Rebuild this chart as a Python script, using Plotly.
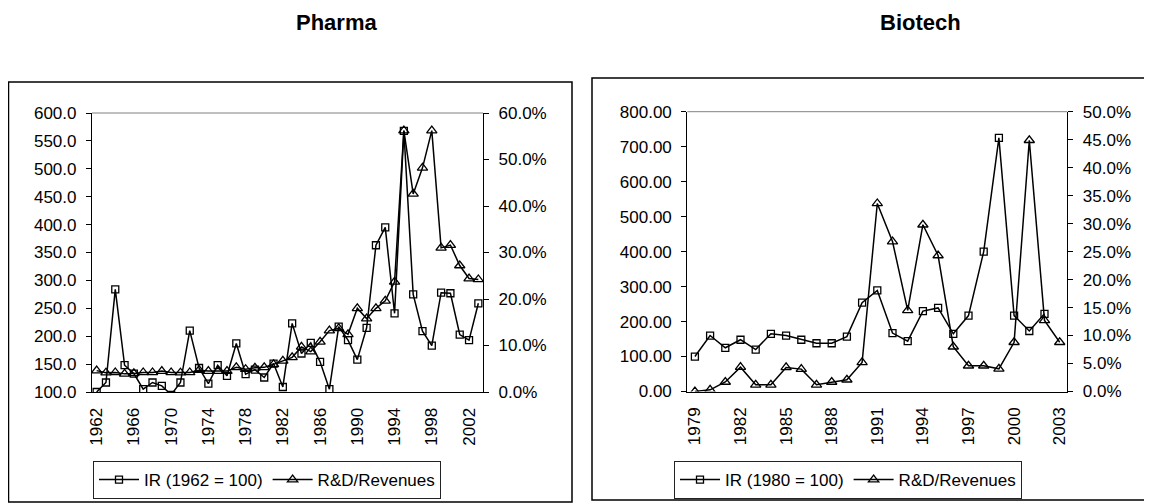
import plotly.graph_objects as go

# ---------------- data ----------------
pharma_years = list(range(1962, 2004))
pharma_ir = [100, 117, 284, 148, 133, 105, 117, 111, 95, 117,
             210, 143, 115, 148, 129, 187, 132, 140, 126, 151,
             109, 223, 169, 188, 154, 105, 217, 193, 158, 215,
             363, 395, 241, 568, 275, 209, 183, 278, 277, 203,
             193, 259]
pharma_rd = [4.6, 4.15, 4.2, 3.9, 4.0, 4.2, 4.2, 4.5, 4.2, 4.15,
             4.2, 4.7, 4.5, 4.5, 4.5, 5.3, 4.9, 5.2, 5.3, 5.95,
             6.7, 7.45, 9.7, 8.7, 10.8, 13.2, 13.7, 12.4, 18.0, 15.8,
             18.0, 19.6, 23.7, 56.2, 42.6, 48.2, 56.2, 31.0, 31.6, 27.2,
             24.4, 24.2]
pharma_tick_years = list(range(1962, 2004, 4))

bio_years = list(range(1979, 2004))
bio_ir = [100, 160, 125, 148, 120, 165, 160, 148, 138, 138,
          157, 254, 289, 167, 144, 230, 239, 165, 217, 400,
          725, 217, 173, 222, None]
bio_rd = [0.0, 0.3, 1.7, 4.35, 1.2, 1.2, 4.3, 4.0, 1.2, 1.7,
          2.1, 5.2, 33.6, 26.8, 14.5, 29.8, 24.3, 8.0, 4.6, 4.6,
          4.05, 8.8, 44.9, 12.7, 8.8]
bio_tick_years = list(range(1979, 2004, 3))

pharma_names = ["IR (1962 = 100)", "R&D/Revenues"]
bio_names = ["IR (1980 = 100)", "R&D/Revenues"]
titles = ["Pharma", "Biotech"]

# ---------------- layout helpers ----------------
OFF = 8  # default page body margin
W, H = 1152 - OFF, 504 - OFF
FONT = "Liberation Sans, Arial, sans-serif"
FS = 17


def px(x):
    return (x - OFF) / W


def py(y):
    return 1 - (y - OFF) / H


sq = dict(symbol="square-open", size=7, color="black", line=dict(width=1.3, color="black"))
tri = dict(symbol="triangle-up-open", size=9, color="black", line=dict(width=1.3, color="black"))
line = dict(color="black", width=1.5)

fig = go.Figure()

fig.add_trace(go.Scatter(x=pharma_years, y=pharma_ir, name=pharma_names[0], mode="lines+markers",
                         marker=sq, line=line, xaxis="x", yaxis="y", legend="legend"))
fig.add_trace(go.Scatter(x=pharma_years, y=pharma_rd, name=pharma_names[1], mode="lines+markers",
                         marker=tri, line=line, xaxis="x", yaxis="y2", legend="legend"))
fig.add_trace(go.Scatter(x=bio_years, y=bio_ir, name=bio_names[0], mode="lines+markers",
                         marker=sq, line=line, xaxis="x2", yaxis="y3", legend="legend2",
                         connectgaps=False))
fig.add_trace(go.Scatter(x=bio_years, y=bio_rd, name=bio_names[1], mode="lines+markers",
                         marker=tri, line=line, xaxis="x2", yaxis="y4", legend="legend2"))

pd_x = [px(92), px(483)]
pd_y = [py(392), py(113)]
bd_x = [px(687.3), px(1067.3)]
bd_y = [py(391.5), py(111.7)]

p_range = [pharma_years[0] - 0.5, pharma_years[-1] + 0.5]
b_range = [bio_years[0] - 0.5, bio_years[-1] + 0.5]
p_bounds = [y - 0.5 for y in pharma_years] + [pharma_years[-1] + 0.5]
b_bounds = [y - 0.5 for y in bio_years] + [bio_years[-1] + 0.5]

tickfont = dict(family=FONT, size=FS, color="black")


def main_x(domain, rng, tv, anchor):
    return dict(domain=domain, range=rng, tickvals=tv, ticktext=[str(v) for v in tv],
                tickangle=-90, ticks="", showline=True, linecolor="black", linewidth=1.2,
                showgrid=False, zeroline=False, tickfont=tickfont, anchor=anchor,
                automargin=False, ticklabelstandoff=8, fixedrange=True)


def tick_x(domain, rng, bounds, anchor, over, where):
    return dict(domain=domain, range=rng, tickvals=bounds, ticks=where, ticklen=4,
                tickcolor="black", tickwidth=1, showticklabels=False, showline=False,
                showgrid=False, zeroline=False, anchor=anchor, overlaying=over,
                automargin=False)


def yax(domain, rng, dtick, fmt, suffix, anchor, side, over=None):
    d = dict(domain=domain, range=rng, dtick=dtick, tick0=rng[0], tickformat=fmt,
             ticksuffix=suffix, ticks="outside", ticklen=5, tickcolor="black",
             showline=True, linecolor="black", linewidth=1.2, showgrid=False,
             zeroline=False, tickfont=tickfont, anchor=anchor, side=side,
             automargin=False, ticklabelstandoff=6)
    if over:
        d["overlaying"] = over
    return d


fig.update_layout(
    width=W, height=H, autosize=False,
    margin=dict(l=0, r=0, t=0, b=0),
    paper_bgcolor="white", plot_bgcolor="rgba(0,0,0,0)",
    font=dict(family=FONT, size=FS, color="black"),
    xaxis=main_x(pd_x, p_range, pharma_tick_years, "y"),
    xaxis3=tick_x(pd_x, p_range, p_bounds, "y", "x", "outside"),
    xaxis5=tick_x(pd_x, p_range, p_bounds, "y", "x", "inside"),
    yaxis=yax(pd_y, [100, 600], 50, ".1f", "", "x", "left"),
    yaxis2=yax(pd_y, [0, 60], 10, ".1f", "%", "x", "right", "y"),
    xaxis2=main_x(bd_x, b_range, bio_tick_years, "y3"),
    xaxis4=tick_x(bd_x, b_range, b_bounds, "y3", "x2", "outside"),
    xaxis6=tick_x(bd_x, b_range, b_bounds, "y3", "x2", "inside"),
    yaxis3=yax(bd_y, [0, 800], 100, ".2f", "", "x2", "left"),
    yaxis4=yax(bd_y, [0, 50], 5, ".1f", "%", "x2", "right", "y3"),
    legend=dict(orientation="h", x=px(267), y=py(480), xanchor="center", yanchor="middle",
                bordercolor="#222", borderwidth=1, bgcolor="white",
                font=dict(family=FONT, size=FS, color="black"), itemwidth=40),
    legend2=dict(orientation="h", x=px(848), y=py(480), xanchor="center", yanchor="middle",
                 bordercolor="#222", borderwidth=1, bgcolor="white",
                 font=dict(family=FONT, size=FS, color="black"), itemwidth=40),
    showlegend=True,
)

# panel frames and plot-area top borders
fig.add_shape(type="rect", xref="paper", yref="paper", x0=px(8.5), x1=px(572), y0=py(502), y1=py(82),
              line=dict(color="black", width=1.5), layer="below")
fig.add_shape(type="rect", xref="paper", yref="paper", x0=px(592), x1=px(1160), y0=py(500), y1=py(78),
              line=dict(color="black", width=1.5), layer="below")
fig.add_shape(type="line", xref="x domain", yref="y domain", x0=0, x1=1, y0=1, y1=1,
              line=dict(color="#808080", width=1))
fig.add_shape(type="line", xref="x2 domain", yref="y3 domain", x0=0, x1=1, y0=1, y1=1,
              line=dict(color="#808080", width=1))

fig.add_annotation(text="<b>" + titles[0] + "</b>", xref="paper", yref="paper", x=px(336), y=py(8.5),
                   xanchor="center", yanchor="top", showarrow=False,
                   font=dict(family=FONT, size=22, color="black"))
fig.add_annotation(text="<b>" + titles[1] + "</b>", xref="paper", yref="paper", x=px(920), y=py(8.5),
                   xanchor="center", yanchor="top", showarrow=False,
                   font=dict(family=FONT, size=22, color="black"))

fig.write_html("out.html")
